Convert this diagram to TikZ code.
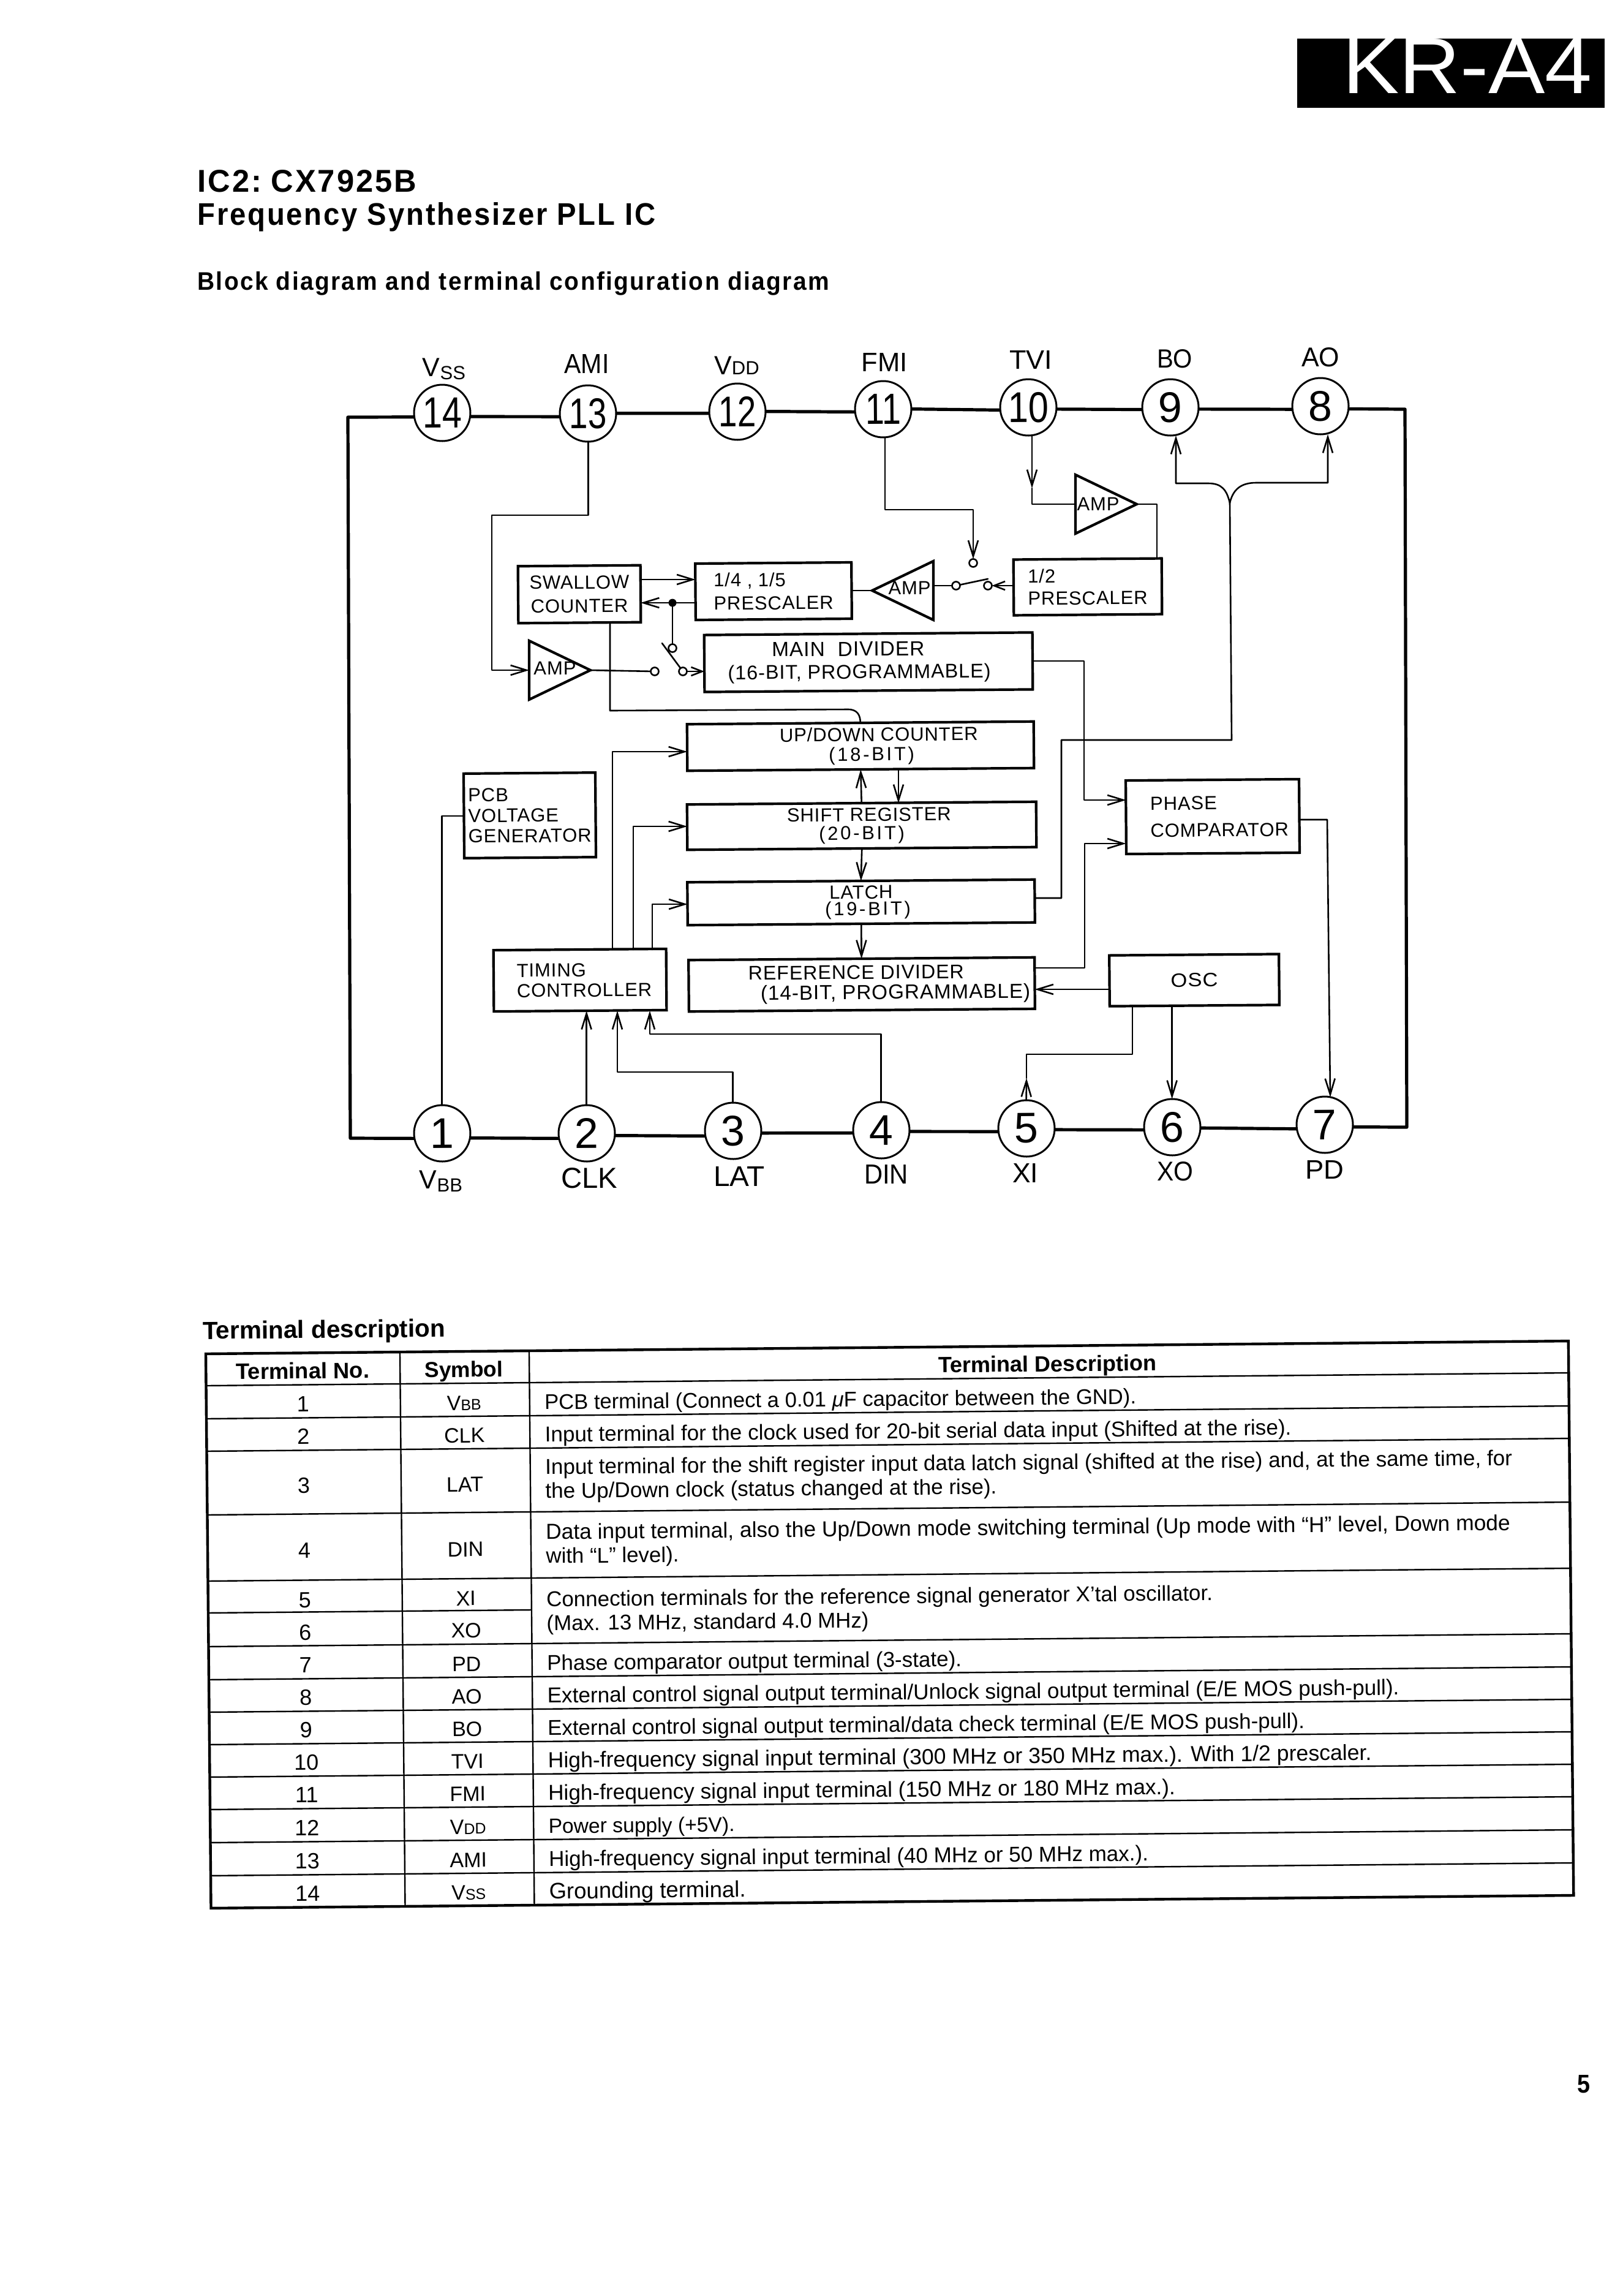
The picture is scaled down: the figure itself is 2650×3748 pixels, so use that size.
\documentclass[tikz,border=0pt]{standalone}
\usepackage{graphicx}
\usepackage{fontspec}
\setmainfont{Liberation Sans}
\newfontfamily\blkfont[LetterSpace=3]{Liberation Sans}
\newfontfamily\ttlfont[LetterSpace=6]{Liberation Sans}
\newfontfamily\widefont[LetterSpace=12]{Liberation Sans}
\usetikzlibrary{arrows.meta,shapes.geometric}
\newdimen\pxu \pxu=0.5pt
\newcommand\fit[3]{\resizebox{#1\pxu}{#2\pxu}{#3}}
\newcommand\fitw[2]{\resizebox{#1\pxu}{!}{#2}}
\newcommand\subs[1]{\raisebox{-2.5pt}{\fontsize{15.5pt}{16pt}\selectfont #1}}
\newcommand\widetxt[1]{{\widefont\fontsize{15.5pt}{16pt}\selectfont #1}}
\tikzset{
  wire/.style={line width=1.3pt,line join=round,line cap=round},
  arr/.style={wire,-{Straight Barb[length=13pt,width=8pt,line width=1.3pt]}},
  arrs/.style={wire,-{Straight Barb[length=9pt,width=7pt,line width=1.3pt]}},
  bus/.style={line width=2.6pt,line join=round},
  bk/.style n args={3}{rectangle,draw,line width=2.1pt,inner sep=0pt,outer sep=0pt,rotate=0.45,
     minimum width=#1*0.5pt,minimum height=#2*0.5pt,font={\blkfont\fontsize{15.5pt}{#3pt}\selectfont}},
  pin/.style={circle,draw,fill=white,line width=1.5pt,inner sep=0pt,outer sep=0pt,minimum size=46pt,rotate=0.45,
     font={\fontsize{35pt}{36pt}\selectfont}},
  amp/.style={isosceles triangle,isosceles triangle stretches,draw,line width=2.1pt,inner sep=0pt,outer sep=0pt,
     minimum width=48pt,minimum height=50pt,anchor=apex},
  amptext/.style={inner sep=0pt,font={\blkfont\fontsize{15.5pt}{16pt}\selectfont}},
  contact/.style={circle,draw,fill=white,line width=1.3pt,inner sep=0pt,outer sep=0pt,minimum size=6.5pt},
  jdot/.style={circle,fill=black,inner sep=0pt,outer sep=0pt,minimum size=6.5pt},
  pinname/.style={anchor=base,inner sep=0pt,font={\fontsize{21.5pt}{22pt}\selectfont}},
  head/.style={anchor=base west,inner sep=0pt},
  tcell/.style={anchor=base,inner sep=0pt,font={\fontsize{18pt}{20pt}\selectfont}},
  tsym/.style={anchor=base,inner sep=0pt,font={\fontsize{17pt}{20pt}\selectfont}},
  tdesc/.style={anchor=base west,inner sep=0pt,font={\fontsize{18pt}{20pt}\selectfont}},
  tout/.style={line width=2.2pt,line join=miter},
  tin/.style={line width=1.2pt}
}
\begin{document}
\begin{tikzpicture}[x=0.5pt,y=-0.5pt]
\fill[white] (0,0) rectangle (2650,3748);
\useasboundingbox (0,0) rectangle (2650,3748);

% header
\node[rectangle,fill=black,inner sep=0pt,outer sep=0pt,minimum width=251pt,minimum height=56.5pt] (krbox) at (2369,119.5) {};
\node[anchor=base,inner sep=0pt,text=white] (krtext) at (2396,152) {\fit{408}{89}{KR-A4}};
\node[head] (title1) at (322,313) {\ttlfont\bfseries\fit{358}{36}{IC2:\kern-.15em{} CX7925B}};
\node[head] (title2) at (322,367) {\ttlfont\bfseries\fit{748}{37}{Frequency Synthesizer PLL IC}};
\node[head] (title3) at (322,473) {\ttlfont\bfseries\fit{1031}{30}{Block diagram and terminal configuration diagram}};
\node[anchor=base,inner sep=0pt] (pageno) at (2586,3416) {\bfseries\fit{21}{29}{5}};

% pins
\node[pin] (p14) at (722,674) {\fit{64}{49}{14}};
\node[pin] (p13) at (960,675) {\fit{61}{49}{13}};
\node[pin] (p12) at (1204,672) {\fit{61}{49}{12}};
\node[pin] (p11) at (1442,668) {\fit{58}{49}{11}};
\node[pin] (p10) at (1679,665) {\fit{66}{49}{10}};
\node[pin] (p9) at (1911,665) {9};
\node[pin] (p8) at (2156,663) {8};
\node[pin] (p1) at (722,1850) {1};
\node[pin] (p2) at (958,1850) {2};
\node[pin] (p3) at (1197,1846) {3};
\node[pin] (p4) at (1439,1845) {4};
\node[pin] (p5) at (1676,1842) {5};
\node[pin] (p6) at (1914,1840) {6};
\node[pin] (p7) at (2163,1836) {7};

% pin names
\node[pinname] (n14) at (725,614) {V\subs{SS}};
\node[pinname] (n13) at (958,609) {\fit{73}{31}{AMI}};
\node[pinname] (n12) at (1203,611) {V{\fontsize{15.5pt}{16pt}\selectfont DD}};
\node[pinname] (n11) at (1444,606) {\fit{75}{30}{FMI}};
\node[pinname] (n10) at (1683,602) {\fit{70}{30}{TVI}};
\node[pinname] (n9) at (1918,600) {\fit{58}{30}{BO}};
\node[pinname] (n8) at (2156,598) {\fit{62}{31}{AO}};
\node[pinname] (n1) at (720,1940) {V\subs{BB}};
\node[pinname] (n2) at (962,1939) {\fit{92}{33}{CLK}};
\node[pinname] (n3) at (1207,1936) {\fit{84}{32}{LAT}};
\node[pinname] (n4) at (1447,1932) {\fit{72}{31}{DIN}};
\node[pinname] (n5) at (1674,1930) {\fit{42}{31}{XI}};
\node[pinname] (n6) at (1919,1927) {\fit{59}{31}{XO}};
\node[pinname] (n7) at (2163,1924) {\fit{63}{30}{PD}};

% bus
\coordinate (tl) at (568,681);
\coordinate (bl) at (572,1858);
\coordinate (tr) at (2294,668);
\coordinate (br) at (2297,1840);
\draw[bus] (p14.188) -- (tl) -- (bl) -- (p1.190);
\draw[bus] (p14.-8) -- (p13.186);
\draw[bus] (p13.0) -- (p12.183);
\draw[bus] (p12.0) -- (p11.185);
\draw[bus] (p11.0) -- (p10.185);
\draw[bus] (p10.-4) -- (p9.184);
\draw[bus] (p9.-4) -- (p8.186);
\draw[bus] (p8.-6) -- (tr) -- (br) -- (p7.-5);
\draw[bus] (p1.-10) -- (p2.190);
\draw[bus] (p2.-5) -- (p3.190);
\draw[bus] (p3.-5) -- (p4.185);
\draw[bus] (p4.-3) -- (p5.186);
\draw[bus] (p5.-3) -- (p6.185);
\draw[bus] (p6.-2) -- (p7.188);

% blocks
\node[bk={200}{93}{19.4},align=center] (swallow) at (946,970) {SWALLOW\\COUNTER};
\node[bk={255}{92}{19},align=left] (pre14) at (1263,965) {1/4 , 1/5\\PRESCALER};
\node[bk={242}{91}{18},align=left] (pre12) at (1776,958) {1/2\\PRESCALER};
\node[bk={536}{93}{18.5},align=center] (main) at (1418,1081) {\fitw{249}{MAIN\hspace{5pt} DIVIDER}\hspace*{33pt}\\\fitw{429}{(16-BIT, PROGRAMMABLE)}\hspace*{15pt}};
\node[bk={566}{76}{16},align=center] (updown) at (1405,1218) {\hspace*{30pt}UP/DOWN COUNTER\\\hspace*{18pt}\widetxt{(18-BIT)}};
\node[bk={570}{74}{15},align=center] (shift) at (1407,1348) {\hspace*{12pt}SHIFT REGISTER\\\widetxt{(20-BIT)}};
\node[bk={567}{70}{13.5},align=center] (latch) at (1406,1473) {LATCH\\\hspace*{11pt}\widetxt{(19-BIT)}};
\node[bk={565}{84}{16.5},align=left] (ref) at (1407,1607) {\hspace*{45pt}\fitw{352}{REFERENCE DIVIDER}\\\hspace*{55pt}\fitw{440}{(14-BIT, PROGRAMMABLE)}};
\node[bk={215}{138}{16.75},align=left] (pcb) at (865,1331) {PCB\\VOLTAGE\\GENERATOR};
\node[bk={282}{100}{16.5},align=left] (timing) at (947,1600) {\hspace*{7pt}TIMING\\\hspace*{7pt}CONTROLLER};
\node[bk={283}{120}{22},align=left] (phase) at (1980,1333) {\hspace*{11pt}PHASE\\\hspace*{11pt}COMPARATOR};
\node[bk={277}{83}{18}] (osc) at (1950,1600) {\fit{77}{22}{OSC}};

% amplifiers
\node[amp] (amp1) at (964,1094) {};
\node[amp] (amp3) at (1856,823) {};
\node[amp,shape border rotate=180] (amp2) at (1424,964) {};
\node[amptext] (amp1t) at (906,1091) {AMP};
\node[amptext] (amp3t) at (1793,823) {AMP};
\node[amptext] (amp2t) at (1485,960) {AMP};

% switch contacts
\node[contact] (swA) at (1069,1096) {};
\node[contact] (swB) at (1098,1058) {};
\node[contact] (swC) at (1115,1096) {};
\node[contact] (swD) at (1561,956) {};
\node[contact] (swE) at (1613,956) {};
\node[contact] (swF) at (1589,919) {};
\node[jdot] (dot1) at (1098,984) {};
\coordinate (armA) at (1081,1050);
\coordinate (armB) at (1613,945);
\draw[wire] (swC) -- (armA);
\draw[wire] (swD) -- (armB);

% left side of PLL
\coordinate (q13) at (803,841);
\draw[arr] (p13.south) |- (q13) |- (amp1.lower side);
\draw[wire] (amp1.apex) -- (swA);
\draw[arrs] (swC) -- (swC -| main.west);
\draw[wire] (dot1) -- (swB);
\coordinate (y946) at (1100,946);
\draw[arr] (swallow.east |- y946) -- (pre14.west |- y946);
\draw[wire] (pre14.west |- dot1) -- (dot1);
\draw[arr] (dot1) -- (swallow.east |- dot1);
\draw[wire] (pre14.east |- amp2.apex) -- (amp2.apex);
\draw[wire] (amp2.lower side |- swD) -- (swD);
\draw[arrs] (pre12.west |- swE) -- (swE);
\coordinate (xa) at (996,1160);
\coordinate (xb) at (1385,1158);
\draw[wire] (xa |- swallow.south) -- (xa) -- (xb) .. controls (1400,1158) and (1405,1168) .. (updown.north);

% FMI, TVI
\coordinate (q11a) at (1445,832);
\draw[arr] (q11a |- p11.south) -- (q11a) -| (swF.north);
\coordinate (b10) at (1685,797);
\draw[arr] (b10 |- p10.south) -- (b10);
\draw[wire] (b10) |- (amp3.lower side);
\coordinate (q12) at (1889,911);
\draw[wire] (amp3.apex) -| (q12 |- pre12.north);

% BO / AO fork
\coordinate (l0) at (1733,1466);
\coordinate (l1) at (1733,1208);
\coordinate (l2) at (2011,1208);
\coordinate (l3) at (2008,821);
\coordinate (q9) at (1920,789);
\coordinate (q8) at (2168,788);
\draw[wire] (latch.east |- l0) -- (l0) -- (l1) -- (l2) -- (l3);
\draw[arr] (l3) .. controls (2003,800) and (1995,789) .. (1973,789) -- (q9) -- (q9 |- p9.south);
\draw[arr] (l3) .. controls (2013,800) and (2025,788) .. (2051,788) -- (q8) -- (q8 |- p8.south);

% phase comparator
\coordinate (m1) at (1770,1306);
\draw[arr] (main.east) -| (m1) -- (phase.west |- m1);
\coordinate (r0) at (1771,1580);
\coordinate (r1) at (1771,1377);
\draw[arr] (ref.east |- r0) -- (r0) -- (r1) -- (phase.west |- r1);
\coordinate (ph1) at (2167,1338);
\coordinate (ph2) at (2172,1791);
\draw[arr] (phase.east |- ph1) -- (ph1) -- (ph2);

% osc
\coordinate (o2) at (1800,1615);
\draw[arr] (osc.west |- o2) -- (ref.east |- o2);
\coordinate (a5) at (1676,1760);
\coordinate (os1) at (1849,1721);
\draw[arr] (p5.north) -- (a5);
\draw[wire] (a5) |- (os1) -- (os1 |- osc.south);
\draw[arr] (p6.north |- osc.south) -- (p6.north);

% register stack
\coordinate (x2) at (1467,1280);
\draw[arr] (shift.north) -- (updown.south);
\draw[arr] (x2 |- updown.south) -- (x2 |- shift.north);
\draw[arr] (shift.south) -- (latch.north);
\draw[arr] (latch.south) -- (ref.north);

% timing
\coordinate (t1) at (1000,1227);
\coordinate (t2) at (1034,1349);
\coordinate (t3) at (1065,1476);
\coordinate (t5) at (1008,1750);
\coordinate (t6) at (1061,1688);
\draw[arr] (t1 |- timing.north) -- (t1) -- (updown.west |- t1);
\draw[arr] (t2 |- timing.north) -- (t2) -- (shift.west |- t2);
\draw[arr] (t3 |- timing.north) -- (t3) -- (latch.west |- t3);
\draw[arr] (p2.north) -- (p2.north |- timing.south);
\draw[arr] (p3.north) |- (t5) -- (t5 |- timing.south);
\draw[arr] (p4.north) |- (t6) -- (t6 |- timing.south);
\draw[wire] (p1.north) |- (pcb.west);

% table
\begin{scope}[shift={(336,2210)},rotate=0.54,transform shape]
\node[head] (thead) at (-5,-24) {\bfseries\fitw{396}{\fontsize{18pt}{20pt}\selectfont Terminal description}};
\foreach \v in {52,106,159,263,371,478,532,585,638,691,744,798,852}
  \draw[tin] (0,\v) -- (2225,\v);
\draw[tin] (0,423) -- (528,423);
\draw[tin] (317,0) -- (317,905);
\draw[tin] (528,0) -- (528,905);
\draw[tout] (0,0) rectangle (2225,905);

\node[tcell] (h1) at (158,42) {\bfseries\fitw{218}{Terminal No.}};
\node[tcell] (h2) at (421,42) {\bfseries\fitw{128}{Symbol}};
\node[tcell] (h3) at (1374,42) {\bfseries\fitw{356}{Terminal Description}};

\node[tcell] (a1) at (158,96) {1};
\node[tcell] (a2) at (158,149) {2};
\node[tcell] (a3) at (158,229) {3};
\node[tcell] (a4) at (158,335) {4};
\node[tcell] (a5n) at (158,416) {5};
\node[tcell] (a6) at (158,469) {6};
\node[tcell] (a7) at (158,522) {7};
\node[tcell] (a8) at (158,575) {8};
\node[tcell] (a9) at (158,628) {9};
\node[tcell] (a10) at (158,681) {10};
\node[tcell] (a11) at (158,734) {11};
\node[tcell] (a12) at (158,788) {12};
\node[tcell] (a13) at (158,842) {13};
\node[tcell] (a14) at (158,895) {14};

\node[tsym] (s1) at (421,96) {V{\fontsize{12.5pt}{14pt}\selectfont BB}};
\node[tsym] (s2) at (421,149) {CLK};
\node[tsym] (s3) at (421,229) {LAT};
\node[tsym] (s4) at (421,335) {DIN};
\node[tsym] (s5) at (421,415) {XI};
\node[tsym] (s6) at (421,467) {XO};
\node[tsym] (s7) at (421,522) {PD};
\node[tsym] (s8) at (421,575) {AO};
\node[tsym] (s9) at (421,628) {BO};
\node[tsym] (s10) at (421,681) {TVI};
\node[tsym] (s11) at (421,734) {FMI};
\node[tsym] (s12) at (421,788) {V{\fontsize{12.5pt}{14pt}\selectfont DD}};
\node[tsym] (s13) at (421,842) {AMI};
\node[tsym] (s14) at (421,895) {V{\fontsize{12.5pt}{14pt}\selectfont SS}};

\node[tdesc] (d1) at (552,96) {\fitw{966}{PCB terminal (Connect a 0.01 \textit{μ}F capacitor between the GND).}};
\node[tdesc] (d2) at (552,149) {\fitw{1219}{Input terminal for the clock used for 20-bit serial data input (Shifted at the rise).}};
\node[tdesc] (d3a) at (552,202) {\fitw{1579}{Input terminal for the shift register input data latch signal (shifted at the rise) and, at the same time, for}};
\node[tdesc] (d3b) at (552,241) {\fitw{737}{the Up/Down clock (status changed at the rise).}};
\node[tdesc] (d4a) at (552,308) {\fitw{1575}{Data input terminal, also the Up/Down mode switching terminal (Up mode with “H” level, Down mode}};
\node[tdesc] (d4b) at (552,347) {\fitw{217}{with “L” level).}};
\node[tdesc] (d5a) at (552,418) {\fitw{1088}{Connection terminals for the reference signal generator X’tal oscillator.}};
\node[tdesc] (d5b) at (552,457) {\fitw{526}{(Max. 13 MHz, standard 4.0 MHz)}};
\node[tdesc] (d7) at (552,522) {\fitw{677}{Phase comparator output terminal (3-state).}};
\node[tdesc] (d8) at (552,575) {\fitw{1391}{External control signal output terminal/Unlock signal output terminal (E/E MOS push-pull).}};
\node[tdesc] (d9) at (552,628) {\fitw{1236}{External control signal output terminal/data check terminal (E/E MOS push-pull).}};
\node[tdesc] (d10) at (552,681) {\fitw{1345}{High-frequency signal input terminal (300 MHz or 350 MHz max.).  With 1/2 prescaler.}};
\node[tdesc] (d11) at (552,734) {\fitw{1024}{High-frequency signal input terminal (150 MHz or 180 MHz max.).}};
\node[tdesc] (d12) at (552,788) {\fitw{304}{Power supply (+5V).}};
\node[tdesc] (d13) at (552,842) {\fitw{979}{High-frequency signal input terminal (40 MHz or 50 MHz max.).}};
\node[tdesc] (d14) at (552,895) {\fitw{321}{Grounding terminal.}};
\end{scope}
\end{tikzpicture}
\end{document}
